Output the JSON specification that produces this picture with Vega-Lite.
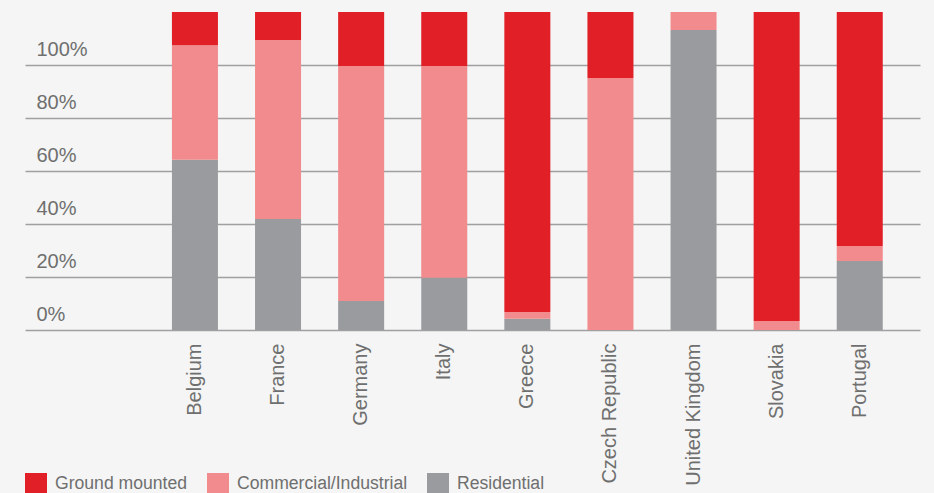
{
  "$schema": "https://vega.github.io/schema/vega-lite/v6.json",
  "autosize": {"type": "none"},
  "width": 895,
  "height": 318,
  "padding": {"left": 25, "top": 12, "right": 14, "bottom": 163},
  "background": "#F4F5F4",
  "config": {
    "view": {"stroke": null},
    "font": "Liberation Sans",
    "axis": {"labelFont": "Liberation Sans", "labelColor": "#6F6F6F"},
    "legend": {"labelFont": "Liberation Sans", "labelColor": "#6F6F6F"}
  },
  "data": {
    "values": [
      {"country": "Belgium", "type": "Residential", "layer": 1, "value": 64.2},
      {"country": "Belgium", "type": "Commercial/Industrial", "layer": 2, "value": 43.3},
      {"country": "Belgium", "type": "Ground mounted", "layer": 3, "value": 12.5},
      {"country": "France", "type": "Residential", "layer": 1, "value": 41.9},
      {"country": "France", "type": "Commercial/Industrial", "layer": 2, "value": 67.5},
      {"country": "France", "type": "Ground mounted", "layer": 3, "value": 10.6},
      {"country": "Germany", "type": "Residential", "layer": 1, "value": 10.9},
      {"country": "Germany", "type": "Commercial/Industrial", "layer": 2, "value": 88.7},
      {"country": "Germany", "type": "Ground mounted", "layer": 3, "value": 20.4},
      {"country": "Italy", "type": "Residential", "layer": 1, "value": 19.7},
      {"country": "Italy", "type": "Commercial/Industrial", "layer": 2, "value": 79.9},
      {"country": "Italy", "type": "Ground mounted", "layer": 3, "value": 20.4},
      {"country": "Greece", "type": "Residential", "layer": 1, "value": 4.2},
      {"country": "Greece", "type": "Commercial/Industrial", "layer": 2, "value": 2.6},
      {"country": "Greece", "type": "Ground mounted", "layer": 3, "value": 113.2},
      {"country": "Czech Republic", "type": "Residential", "layer": 1, "value": 0},
      {"country": "Czech Republic", "type": "Commercial/Industrial", "layer": 2, "value": 95.1},
      {"country": "Czech Republic", "type": "Ground mounted", "layer": 3, "value": 24.9},
      {"country": "United Kingdom", "type": "Residential", "layer": 1, "value": 113.2},
      {"country": "United Kingdom", "type": "Commercial/Industrial", "layer": 2, "value": 6.8},
      {"country": "United Kingdom", "type": "Ground mounted", "layer": 3, "value": 0},
      {"country": "Slovakia", "type": "Residential", "layer": 1, "value": 0},
      {"country": "Slovakia", "type": "Commercial/Industrial", "layer": 2, "value": 3.4},
      {"country": "Slovakia", "type": "Ground mounted", "layer": 3, "value": 116.6},
      {"country": "Portugal", "type": "Residential", "layer": 1, "value": 26.0},
      {"country": "Portugal", "type": "Commercial/Industrial", "layer": 2, "value": 5.7},
      {"country": "Portugal", "type": "Ground mounted", "layer": 3, "value": 88.3}
    ]
  },
  "mark": {"type": "bar", "width": {"band": 0.719}},
  "encoding": {
    "x": {
      "field": "country",
      "type": "nominal",
      "sort": null,
      "scale": {"paddingInner": 0.23, "paddingOuter": 1, "align": 0.83},
      "axis": {
        "title": null,
        "labelAngle": -90,
        "labelAlign": "right",
        "labelBaseline": "middle",
        "labelPadding": 13,
        "labelFontSize": 20,
        "ticks": false,
        "domain": false,
        "grid": false
      }
    },
    "y": {
      "field": "value",
      "type": "quantitative",
      "stack": "zero",
      "scale": {"domain": [0, 120], "nice": false},
      "axis": {
        "title": null,
        "values": [0, 20, 40, 60, 80, 100],
        "labelExpr": "datum.value + '%'",
        "labelAlign": "left",
        "labelBaseline": "alphabetic",
        "labelPadding": -11,
        "labelOffset": -10,
        "labelFontSize": 20,
        "labelFlush": false,
        "labelOverlap": false,
        "ticks": false,
        "domain": false,
        "grid": true,
        "gridColor": "#A0A0A2",
        "gridWidth": 1.3
      }
    },
    "order": {"field": "layer", "type": "quantitative", "sort": "ascending"},
    "color": {
      "field": "type",
      "type": "nominal",
      "scale": {
        "domain": ["Ground mounted", "Commercial/Industrial", "Residential"],
        "range": ["#E11F27", "#F28B8D", "#9A9B9F"]
      },
      "legend": {
        "title": null,
        "orient": "none",
        "direction": "horizontal",
        "legendX": 0,
        "legendY": 461,
        "padding": 0,
        "symbolType": "square",
        "symbolSize": 484,
        "symbolStrokeWidth": 0,
        "symbolOpacity": 1,
        "labelFontSize": 17.6,
        "labelOffset": 8,
        "columnPadding": 19,
        "labelLimit": 300
      }
    }
  }
}
